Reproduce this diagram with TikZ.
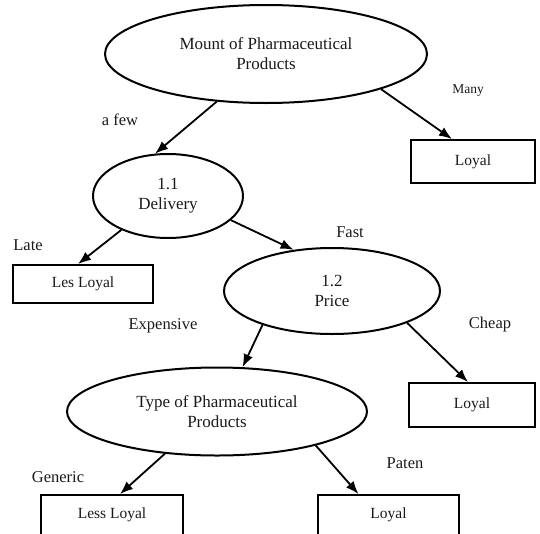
\documentclass[tikz,border=0pt]{standalone}
\usepackage{fontspec}
\setmainfont{Liberation Serif}
\usetikzlibrary{shapes.geometric,arrows.meta,calc}

\tikzset{
  oval/.style={ellipse, draw, line width=2pt, inner sep=0pt, align=center,
    font=\fontsize{17}{20}\selectfont},
  outcome/.style={rectangle, draw, line width=1.9pt, inner sep=0pt,
    font=\fontsize{15.5}{18}\selectfont},
  branch/.style={font=\fontsize{16.5}{19}\selectfont},
  arr/.style={line width=1.8pt, -{Latex[length=13pt,width=10pt]}},
}

\begin{document}
\begin{tikzpicture}[x=1pt,y=-1pt,text=black!90]
\useasboundingbox (0,0) rectangle (540,533);
\clip (0,0) rectangle (540,533);

% decision nodes
\node[oval, minimum width=322pt, minimum height=98pt] (mount) at (266,54)
  {Mount of Pharmaceutical\\Products};
\node[oval, minimum width=150pt, minimum height=84pt] (deliv) at (168,196)
  {1.1\\Delivery};
\node[oval, minimum width=216pt, minimum height=86pt] (price) at (332,291)
  {1.2\\Price};
\node[oval, minimum width=300pt, minimum height=88pt] (ptype) at (217,411.5)
  {Type of Pharmaceutical\\Products};

% outcomes
\node[outcome, minimum width=124pt, minimum height=43pt] (loyalA) at (473,161.5) {Loyal};
\node[outcome, minimum width=140pt, minimum height=38pt] (lesloyal) at (83,284) {Les Loyal};
\node[outcome, minimum width=126pt, minimum height=44pt] (loyalB) at (472,405) {Loyal};
\node[outcome, minimum width=142pt, minimum height=40pt] (lessloyal) at (112,515) {Less Loyal};
\node[outcome, minimum width=141pt, minimum height=40pt] (loyalC) at (388.5,515) {Loyal};

% branch labels
\node[branch] (lfew) at (120,120) {a few};
\node[font=\fontsize{13.5}{16}\selectfont] (lmany) at (468,91) {Many};
\node[branch] (llate) at (28,245) {Late};
\node[branch] (lfast) at (350,232) {Fast};
\node[branch] (lexp) at (163,326) {Expensive};
\node[branch] (lcheap) at (490,325) {Cheap};
\node[branch] (lgen) at (58,477) {Generic};
\node[branch] (lpaten) at (405,463) {Paten};

% connectors
\draw[arr] (mount.224) -- (deliv.107);
\draw[arr] (mount.343) -- ([xshift=-21pt]loyalA.north);
\draw[arr] (deliv.216) -- ([xshift=-5pt]lesloyal.north);
\draw[arr] (deliv.339) -- (price.133);
\draw[arr] (price.206) -- (ptype.60);
\draw[arr] (price.337) -- ([xshift=-4pt]loyalB.north);
\draw[arr] (ptype.219) -- ([xshift=8pt]lessloyal.north);
\draw[arr] (ptype.341) -- ([xshift=-30pt]loyalC.north);
\end{tikzpicture}
\end{document}
